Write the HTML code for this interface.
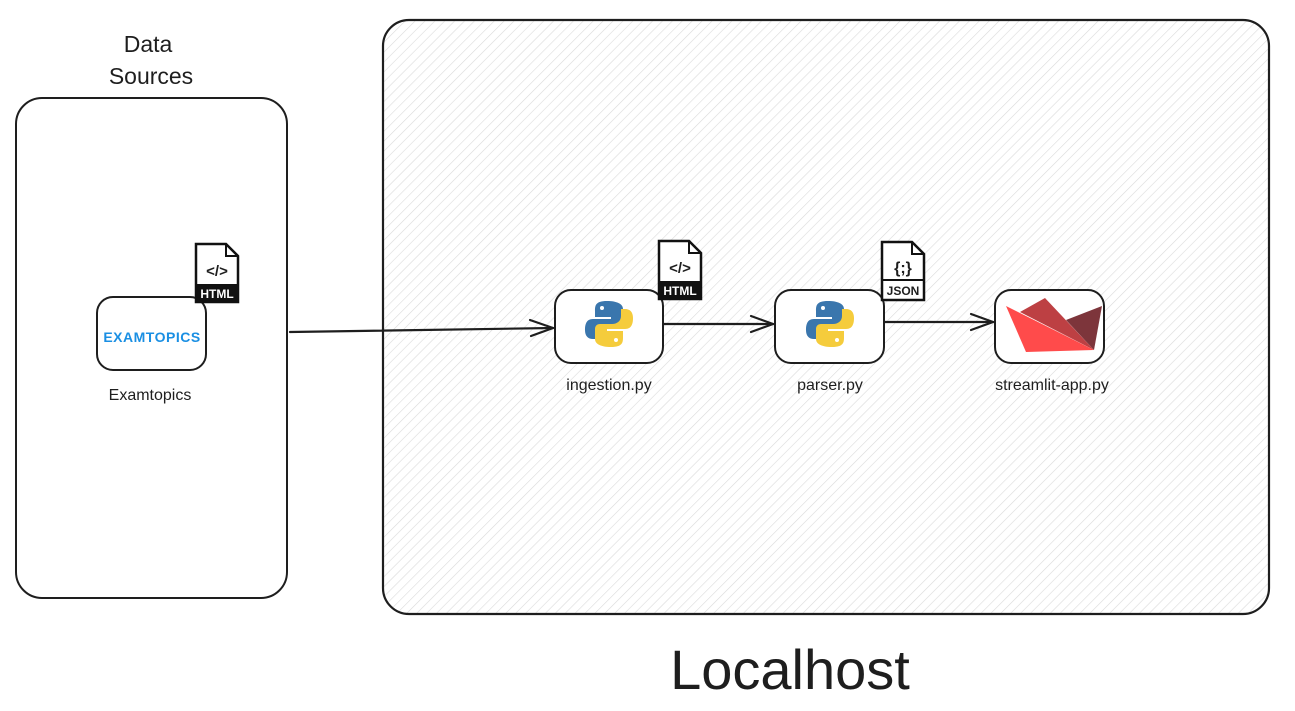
<!DOCTYPE html>
<html><head><meta charset="utf-8"><style>
html,body{margin:0;padding:0;background:#fff;width:1295px;height:711px;overflow:hidden}
svg{display:block}
text{font-family:"Liberation Sans",sans-serif;fill:#1e1e1e}
</style></head><body>
<svg width="1295" height="711" viewBox="0 0 1295 711" xmlns="http://www.w3.org/2000/svg">
<defs>
<pattern id="h" width="7" height="7" patternUnits="userSpaceOnUse" patternTransform="rotate(45)">
<line x1="0" y1="0" x2="0" y2="7" stroke="#dadada" stroke-width="1.2"/>
</pattern>
<g id="py">
<path d="M-2,-22 C-14,-22 -14,-17 -14,-12 L-14,-6 L2,-6 L2,-4 L-16,-4 C-23,-4 -24,2 -24,7 C-24,13 -21,16 -16,16 L-12,16 L-12,9 C-12,4 -8,1 -3,1 L9,1 C12,1 14,-1 14,-4 L14,-14 C14,-19 8,-22 -2,-22 Z" fill="#3a76ad"/>
<path d="M2,24 C14,24 14,19 14,14 L14,8 L-2,8 L-2,6 L16,6 C23,6 24,0 24,-5 C24,-11 21,-14 16,-14 L12,-14 L12,-7 C12,-2 8,1 3,1 L-9,1 C-12,1 -14,3 -14,6 L-14,16 C-14,21 -8,24 2,24 Z" fill="#f5cc3c"/>
<circle cx="-7" cy="-15" r="2" fill="#fff"/><circle cx="7" cy="17" r="2" fill="#fff"/>
</g>
<g id="file">
<path d="M0,0 L30,0 L42,12 L42,58 L0,58 Z" fill="#fff" stroke="#111" stroke-width="2.5"/>
<path d="M30,0 L30,12 L42,12" fill="none" stroke="#111" stroke-width="2"/>
</g>
</defs>

<rect x="16" y="98" width="271" height="500" rx="26" fill="#fff" stroke="#1e1e1e" stroke-width="2"/>
<text x="148" y="52" font-size="23" text-anchor="middle">Data</text>
<text x="151" y="84" font-size="23" text-anchor="middle">Sources</text>

<rect x="383" y="20" width="886" height="594" rx="26" fill="url(#h)" stroke="#1e1e1e" stroke-width="2.2"/>
<text x="790" y="689" font-size="56" text-anchor="middle">Localhost</text>

<rect x="97" y="297" width="109" height="73" rx="16" fill="#fff" stroke="#1e1e1e" stroke-width="2"/>
<text x="152" y="342" font-size="14" font-weight="bold" text-anchor="middle" style="fill:#1a8fe3" letter-spacing="0.5">EXAMTOPICS</text>
<text x="150" y="400" font-size="16" text-anchor="middle">Examtopics</text>
<g transform="translate(196,244)"><use href="#file"/><rect x="0" y="40" width="42" height="18" fill="#111"/>
<text x="21" y="32" font-size="15" text-anchor="middle" font-weight="bold">&lt;/&gt;</text>
<text x="21" y="54" font-size="12" text-anchor="middle" font-weight="bold" style="fill:#fff">HTML</text></g>

<g stroke="#1e1e1e" stroke-width="2.2" fill="none" stroke-linecap="round">
<path d="M290,332 L553,328"/><path d="M530,320 L553,328 L531,336"/>
<path d="M663,324 L773,324"/><path d="M751,316 L773,324 L751,332"/>
<path d="M884,322 L993,322"/><path d="M971,314 L993,322 L971,330"/>
</g>

<rect x="555" y="290" width="108" height="73" rx="16" fill="#fff" stroke="#1e1e1e" stroke-width="2"/>
<use href="#py" x="609" y="323"/>
<text x="609" y="390" font-size="16" text-anchor="middle">ingestion.py</text>
<g transform="translate(659,241)"><use href="#file"/><rect x="0" y="40" width="42" height="18" fill="#111"/>
<text x="21" y="32" font-size="15" text-anchor="middle" font-weight="bold">&lt;/&gt;</text>
<text x="21" y="54" font-size="12" text-anchor="middle" font-weight="bold" style="fill:#fff">HTML</text></g>

<rect x="775" y="290" width="109" height="73" rx="16" fill="#fff" stroke="#1e1e1e" stroke-width="2"/>
<use href="#py" x="830" y="323"/>
<text x="830" y="390" font-size="16" text-anchor="middle">parser.py</text>
<g transform="translate(882,242)"><use href="#file"/><line x1="0" y1="38" x2="42" y2="38" stroke="#111" stroke-width="2"/>
<text x="21" y="31" font-size="16" text-anchor="middle" font-weight="bold">{;}</text>
<text x="21" y="53" font-size="12" text-anchor="middle" font-weight="bold">JSON</text></g>

<rect x="995" y="290" width="109" height="73" rx="16" fill="#fff" stroke="#1e1e1e" stroke-width="2"/>
<path d="M1045,298 L1094,350 L1020,312 Z" fill="#bd4043"/>
<path d="M1102,306 L1094,350 L1066,320 Z" fill="#7d353b"/>
<path d="M1006,306 L1094,350 L1026,352 Z" fill="#ff4b4b"/>
<text x="1052" y="390" font-size="16" text-anchor="middle">streamlit-app.py</text>
</svg>
</body></html>
